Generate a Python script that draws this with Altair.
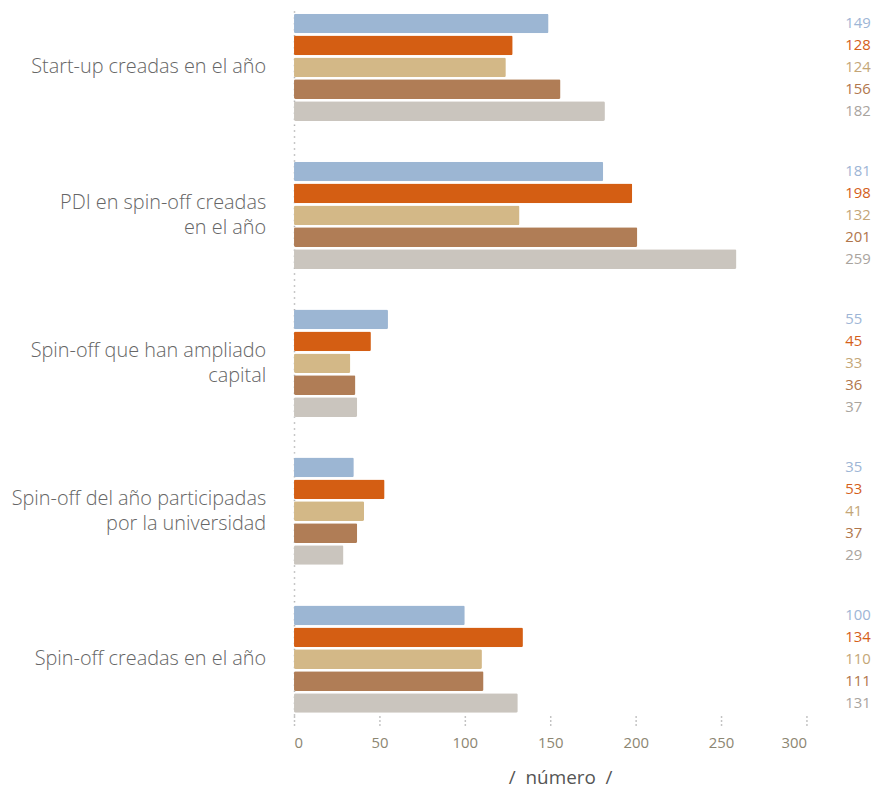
import altair as alt
import pandas as pd

categories = [
    "Start-up creadas en el año",
    "PDI en spin-off creadas en el año",
    "Spin-off que han ampliado capital",
    "Spin-off del año participadas por la universidad",
    "Spin-off creadas en el año ",
]
label_line1 = [
    "Start-up creadas en el año",
    "PDI en spin-off creadas",
    "Spin-off que han ampliado",
    "Spin-off del año participadas",
    "Spin-off creadas en el año",
]
label_line2 = ["", "en el año", "capital", "por la universidad", ""]
series = ["Serie 1", "Serie 2", "Serie 3", "Serie 4", "Serie 5"]
values = [
    [149, 128, 124, 156, 182],
    [181, 198, 132, 201, 259],
    [55, 45, 33, 36, 37],
    [35, 53, 41, 37, 29],
    [100, 134, 110, 111, 131],
]
bar_colors = ["#9cb6d3", "#d45e13", "#d3b887", "#b07d56", "#cac5be"]
text_colors = ["#9db5d5", "#d4601a", "#c4a677", "#b0764c", "#a9a49e"]
x_ticks = [0, 50, 100, 150, 200, 250, 300]

rows = []
for c, vals in zip(categories, values):
    for s, v in zip(series, vals):
        rows.append({"category": c, "series": s, "value": v})
df = pd.DataFrame(rows)

lab_rows = []
for c, l1, l2 in zip(categories, label_line1, label_line2):
    lab_rows.append({"category": c, "l1": l1, "l2": l2, "two": l2 != ""})
lab_df = pd.DataFrame(lab_rows)

FONT = "Open Sans"
LABEL_SIZE = 20
LABEL_COLOR = "#666666"
LABEL_WEIGHT = 300

y_scale = alt.Scale(domain=categories, paddingInner=0.275, paddingOuter=0.02)
y_enc = alt.Y(
    "category:N",
    sort=categories,
    scale=y_scale,
    axis=alt.Axis(
        title=None,
        ticks=False,
        labels=False,
        domain=True,
        domainColor="#b5b5b5",
        domainDash=[1.5, 4.5],
        domainWidth=1.5,
    ),
)
yoff = alt.YOffset("series:N", sort=series, scale=alt.Scale(paddingInner=0.1))

bars = alt.Chart(df).mark_bar(cornerRadius=1.5).encode(
    x=alt.X(
        "value:Q",
        scale=alt.Scale(domain=[0, 300], nice=False),
        axis=alt.Axis(
            values=x_ticks,
            title="/\u00a0\u00a0número\u00a0\u00a0/",
            titleFont=FONT,
            titleFontSize=19,
            titleFontWeight="normal",
            titleColor="#555555",
            titlePadding=18,
            titleX=268,
            domain=False,
            grid=False,
            ticks=True,
            tickSize=11,
            tickColor="#b0b0b0",
            tickDash=[1.5, 2.5],
            tickWidth=1.5,
            labelFont=FONT,
            labelFontSize=15,
            labelColor="#8c8672",
            labelPadding=9,
        ),
    ),
    y=y_enc,
    yOffset=yoff,
    color=alt.Color("series:N", sort=series,
                    scale=alt.Scale(domain=series, range=bar_colors), legend=None),
)

values_text = alt.Chart(df).mark_text(
    align="left", baseline="middle", font=FONT, fontSize=15
).encode(
    x=alt.value(555),
    y=alt.Y("category:N", sort=categories),
    yOffset=yoff,
    text=alt.Text("value:Q"),
    color=alt.Color("series:N", sort=series,
                    scale=alt.Scale(domain=series, range=text_colors), legend=None),
)

lab_base = alt.Chart(lab_df)
common = dict(align="right", baseline="middle", font=FONT, fontSize=LABEL_SIZE,
              fontWeight=LABEL_WEIGHT, color=LABEL_COLOR)
lab_single = lab_base.transform_filter("!datum.two").mark_text(**common).encode(
    x=alt.value(-28), y=alt.Y("category:N", sort=categories), text="l1:N")
lab_first = lab_base.transform_filter("datum.two").mark_text(dy=-12.5, **common).encode(
    x=alt.value(-28), y=alt.Y("category:N", sort=categories), text="l1:N")
lab_second = lab_base.transform_filter("datum.two").mark_text(dy=12.5, **common).encode(
    x=alt.value(-28), y=alt.Y("category:N", sort=categories), text="l2:N")

chart = (
    alt.layer(bars, values_text, lab_single, lab_first, lab_second)
    .resolve_scale(color="independent")
    .properties(
        width=516,
        height=710,
        autosize=alt.AutoSizeParams(type="none"),
        padding={"left": 288, "top": 0, "right": 66, "bottom": 72},
    )
    .configure_view(stroke=None)
)

chart.save("out.html", embed_options={"renderer": "svg", "actions": False})
